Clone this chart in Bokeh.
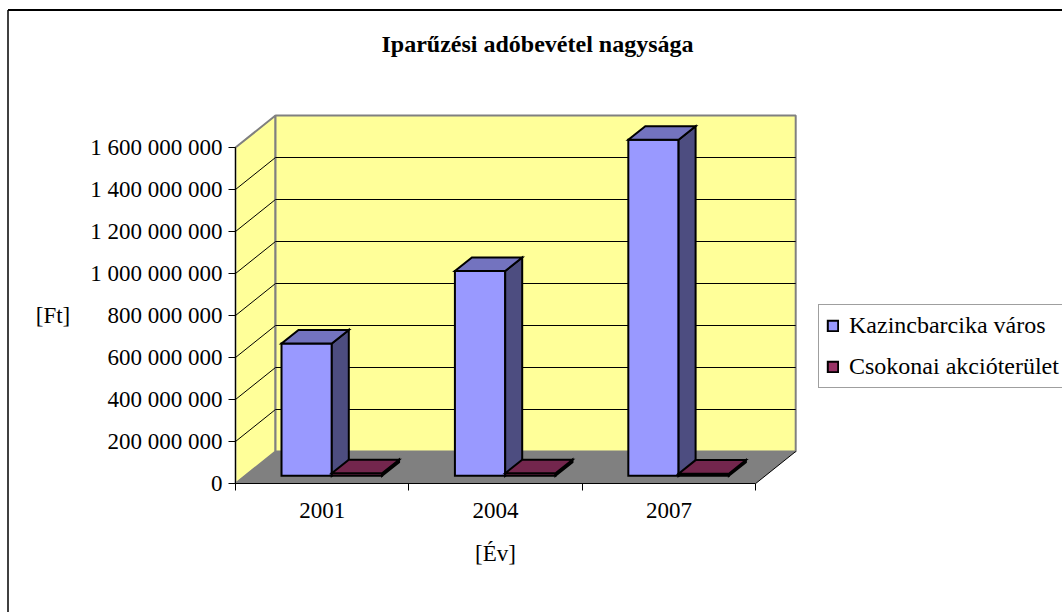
from bokeh.plotting import figure
from bokeh.models import (Range1d, LinearAxis, FixedTicker, ColumnDataSource,
                          Legend, LegendItem, Label)
from bokeh.embed import file_html
from bokeh.resources import INLINE

# ---------------- data ----------------
years = ["2001", "2004", "2007"]
kazincbarcika = [630e6, 975e6, 1600e6]
csokonai = [12e6, 12e6, 10e6]
series_names = ["Kazincbarcika város", "Csokonai akcióterület"]
y_ticks = [0, 200e6, 400e6, 600e6, 800e6, 1000e6, 1200e6, 1400e6, 1600e6]
y_tick_labels = ["0", "200 000 000", "400 000 000", "600 000 000", "800 000 000",
                 "1 000 000 000", "1 200 000 000", "1 400 000 000", "1 600 000 000"]
title_text = "Iparűzési adóbevétel nagysága"
x_label = "[Év]"
y_label = "[Ft]"

# ---------------- layout / style ----------------
W, H = 1062, 612
PAGE = 0
AX_X, AX_Y = 235.0, 483.0          # page px of the front axis origin
CAT_PX = 173.4                     # px per category
VAL_PX = 210.0 / 1e9               # px per value unit
DEPTH_PX = (40.0, 32.0)            # oblique depth of the box
F0, F1 = 0.24, 0.665               # bar front / back as fraction of depth
BAR_W = 0.29                       # bar width in category units

front_cols = ["#9999FF", "#993366"]
top_cols = ["#7373BF", "#73264D"]
side_cols = ["#4D4D80", "#4D1A33"]
FONT = "Liberation Serif"
FS = "23px"


def xd(px):
    return (px - AX_X) / CAT_PX


def yd(py):
    return (AX_Y - py) / VAL_PX


Dx = DEPTH_PX[0] / CAT_PX
Dy = DEPTH_PX[1] / VAL_PX
ymax = y_ticks[-1]
ncat = len(years)

p = figure(width=W, height=H, output_backend="svg", toolbar_location=None,
           x_range=Range1d(xd(PAGE), xd(PAGE + W)),
           y_range=Range1d(yd(PAGE + H), yd(PAGE)),
           x_axis_location=None, y_axis_location=None, min_border=0,
           background_fill_color="white", border_fill_color="white")
p.grid.visible = False
p.outline_line_color = None

# walls
p.patch([0, Dx, Dx, 0], [0, Dy, ymax + Dy, ymax], fill_color="#FFFF99",
        line_color="#808080", line_width=2)
p.quad(left=[Dx], right=[ncat + Dx], bottom=[Dy], top=[ymax + Dy],
       fill_color="#FFFF99", line_color="#808080", line_width=2)
# gridlines
gt = y_ticks[1:-1]
p.segment(x0=[Dx] * len(gt), y0=[t + Dy for t in gt],
          x1=[ncat + Dx] * len(gt), y1=[t + Dy for t in gt],
          line_color="#000000", line_width=1)
p.segment(x0=[0] * len(gt), y0=gt, x1=[Dx] * len(gt), y1=[t + Dy for t in gt],
          line_color="#000000", line_width=1)
# floor
p.patch([0, ncat, ncat + Dx, Dx], [0, 0, Dy, Dy], fill_color="#808080",
        line_color=None)
p.segment(x0=[ncat], y0=[0], x1=[ncat + Dx], y1=[Dy], line_color="black",
          line_width=1)

# bars
xs, ys, fills = [], [], []
legend_idx = {}
fdx, fdy = F0 * Dx, F0 * Dy
ddx, ddy = (F1 - F0) * Dx, (F1 - F0) * Dy
for i in range(ncat):
    c = i + 0.5
    for s, vals in enumerate([kazincbarcika, csokonai]):
        v = vals[i]
        x0 = c - BAR_W + s * BAR_W + fdx
        x1 = x0 + BAR_W
        y0 = fdy
        y1 = y0 + v
        legend_idx.setdefault(s, len(xs))
        xs.append([x0, x1, x1, x0]); ys.append([y0, y0, y1, y1]); fills.append(front_cols[s])
        xs.append([x1, x1 + ddx, x1 + ddx, x1]); ys.append([y0, y0 + ddy, y1 + ddy, y1]); fills.append(side_cols[s])
        xs.append([x0, x1, x1 + ddx, x0 + ddx]); ys.append([y1, y1, y1 + ddy, y1 + ddy]); fills.append(top_cols[s])

src = ColumnDataSource(dict(xs=xs, ys=ys, fill=fills))
bars = p.patches("xs", "ys", source=src, fill_color="fill", line_color="black",
                 line_width=2, line_join="miter")

# axes
yaxis = LinearAxis(fixed_location=0, bounds=(0, ymax),
                   ticker=FixedTicker(ticks=y_ticks, minor_ticks=[]),
                   major_label_overrides={int(t): l for t, l in zip(y_ticks, y_tick_labels)},
                   axis_label=y_label, axis_label_orientation="horizontal",
                   axis_label_standoff=17)
xaxis = LinearAxis(fixed_location=0, bounds=(0, ncat),
                   ticker=FixedTicker(ticks=[i + 0.5 for i in range(ncat)],
                                      minor_ticks=list(range(ncat + 1))),
                   major_label_overrides={i + 0.5: y for i, y in enumerate(years)},
                   axis_label=x_label, axis_label_standoff=20)
for ax in (yaxis, xaxis):
    ax.axis_line_color = "black"
    ax.axis_line_width = 1
    ax.major_tick_line_color = "black"
    ax.major_label_text_font = FONT
    ax.major_label_text_font_size = FS
    ax.major_label_text_color = "black"
    ax.axis_label_text_font = FONT
    ax.axis_label_text_font_size = FS
    ax.axis_label_text_font_style = "normal"
    ax.axis_label_text_color = "black"
yaxis.major_tick_in = 0
yaxis.major_tick_out = 7
yaxis.major_label_standoff = 6
yaxis.minor_tick_line_color = None
xaxis.major_tick_in = 0
xaxis.major_tick_out = 0
xaxis.minor_tick_in = 0
xaxis.minor_tick_out = 7
xaxis.minor_tick_line_color = "black"
xaxis.major_label_standoff = 12
p.add_layout(yaxis, "left")
p.add_layout(xaxis, "below")

# title
p.add_layout(Label(x=537 - PAGE, y=H - (43 - PAGE), x_units="screen", y_units="screen",
                   text=title_text, text_font=FONT, text_font_size="24px",
                   text_color="black",
                   text_font_style="bold", text_align="center", text_baseline="middle"))

# outer frame (left and top edges)
xl = xd(7.5)
yt = yd(9.5)
p.segment(x0=[xl], y0=[p.y_range.start], x1=[xl], y1=[yt],
          line_color="#404040", line_width=2)
p.segment(x0=[xl], y0=[yt], x1=[p.x_range.end], y1=[yt],
          line_color="black", line_width=2)

# legend
legend = Legend(items=[LegendItem(label=series_names[s], renderers=[bars], index=legend_idx[s])
                       for s in range(2)],
                location=(818 - PAGE, H - (388 - PAGE)))
legend.label_text_font = FONT
legend.label_text_font_size = "24px"
legend.label_text_color = "black"
legend.glyph_width = 13
legend.glyph_height = 13
legend.label_height = 26
legend.spacing = 14
legend.padding = 7
legend.margin = 0
legend.label_standoff = 10
legend.border_line_color = "#404040"
legend.border_line_width = 1
legend.background_fill_color = "white"
legend.background_fill_alpha = 1
p.add_layout(legend, "center")

open("out.html", "w").write(file_html(p, INLINE))
